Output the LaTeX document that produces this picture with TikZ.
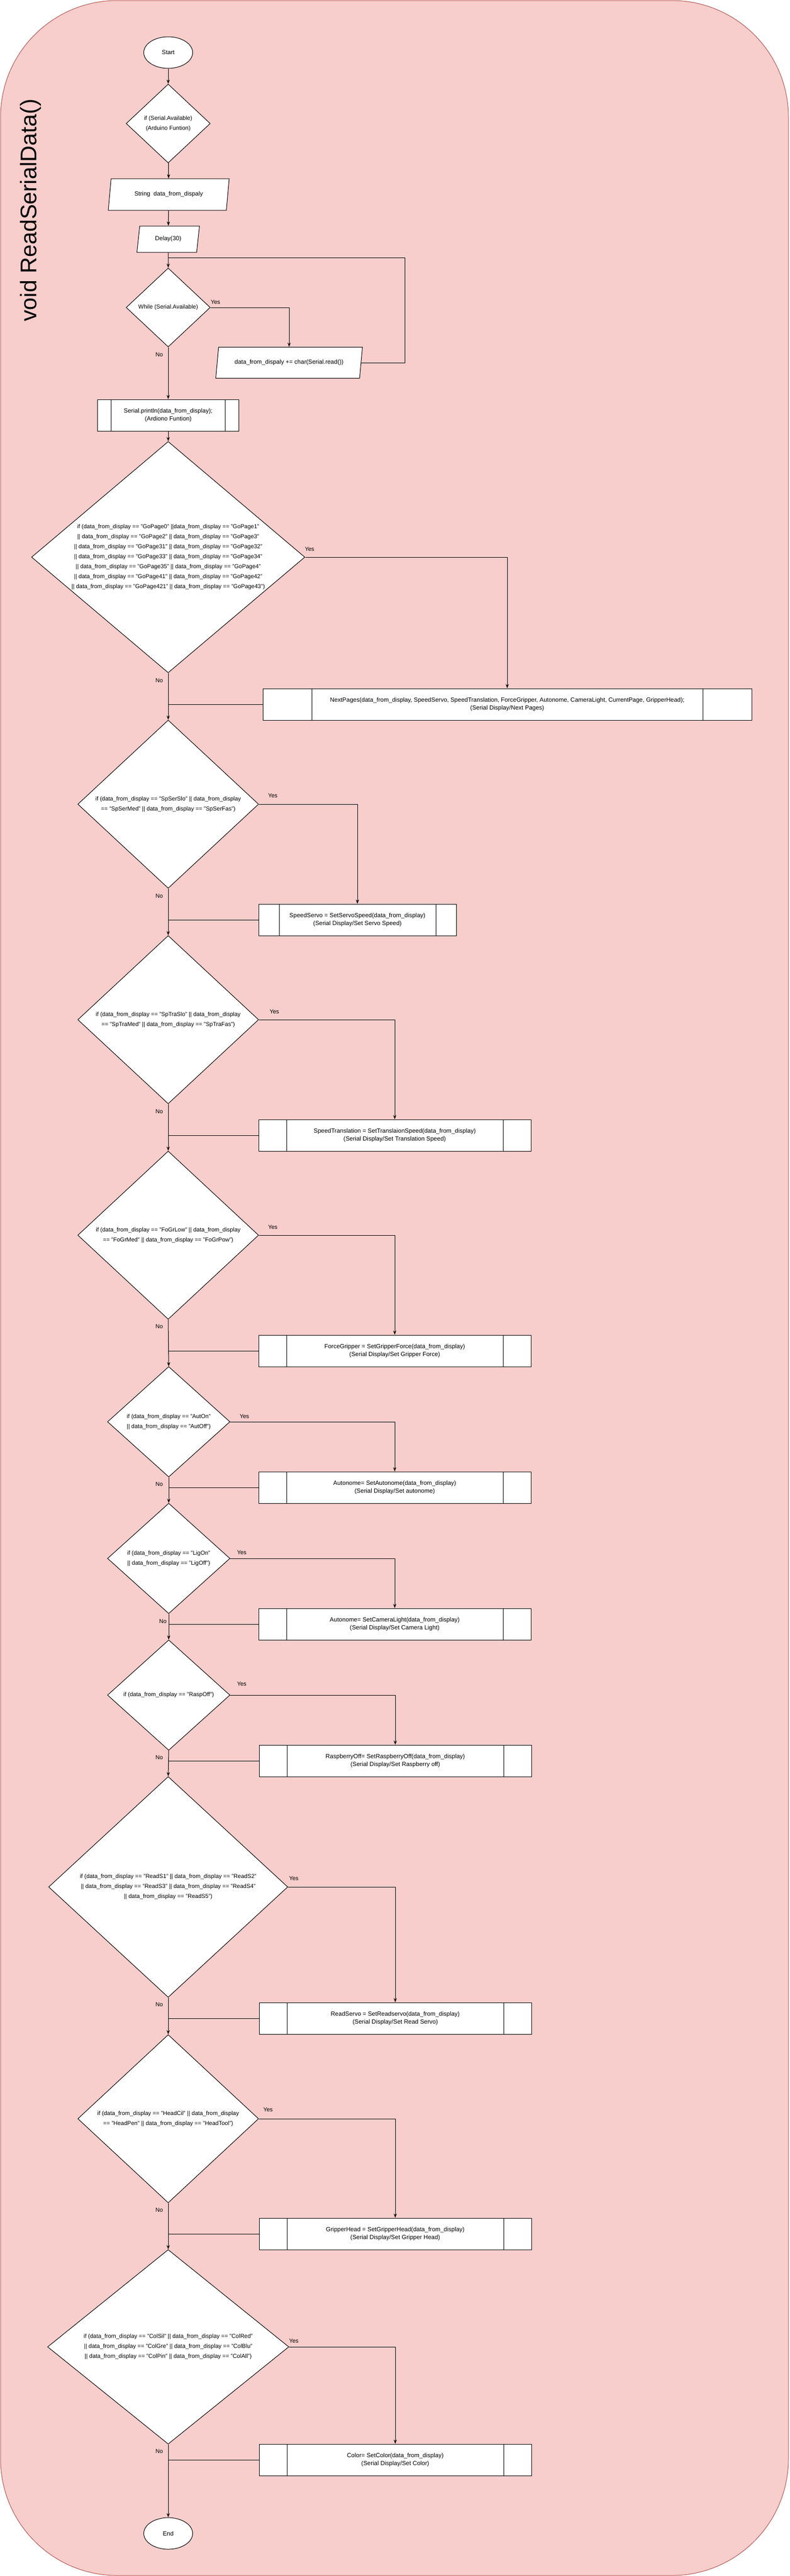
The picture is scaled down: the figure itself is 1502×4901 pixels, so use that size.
\documentclass[tikz,border=0pt]{standalone}
\usepackage{fontspec}
\setmainfont{Liberation Sans}
\usetikzlibrary{shapes.geometric,arrows.meta,positioning}

\definecolor{panelfill}{HTML}{F8CECC}
\definecolor{panelline}{HTML}{B85450}

\begin{document}
\begin{tikzpicture}[x=1pt,y=-1pt,line width=1pt,
    >={Stealth[length=8pt,width=6pt]},
    terminal/.style={ellipse,draw,fill=white,minimum width=93pt,minimum height=60pt,font=\fontsize{11.5}{14}\selectfont},
    decision/.style={diamond,draw,fill=white,inner sep=0pt},
    dtext/.style={align=center,font=\fontsize{11}{19}\selectfont},
    inout/.style={trapezium,trapezium left angle=70,trapezium right angle=110,trapezium stretches body,
        draw,fill=white,inner sep=2pt,font=\fontsize{11.5}{14}\selectfont},
    subproc/.style={draw,fill=white,minimum height=60pt,align=center,font=\fontsize{11.5}{14.5}\selectfont,
        path picture={
            \draw ([xshift=#1]path picture bounding box.north west) -- ([xshift=#1]path picture bounding box.south west);
            \draw ([xshift=-#1]path picture bounding box.north east) -- ([xshift=-#1]path picture bounding box.south east);}},
    edgelbl/.style={font=\fontsize{11}{13}\selectfont}
]

    % Fix the page size and draw the rounded panel behind everything
    \useasboundingbox (0,0) rectangle (1502,4901);
    \draw[panelline,fill=panelfill,rounded corners=222pt] (1,1) rectangle (1500,4900);

    % Title of the function, turned on its side
    \node[rotate=90,font=\fontsize{43}{50}\selectfont] (title) at (58,400) {void ReadSerialData()};

    % Start and the reading loop
    \node[terminal] (start) at (320,100) {Start};
    \node[decision,minimum width=160pt,minimum height=150pt,
        label={[dtext]center:{if (Serial.Available)\\(Arduino Funtion)}}] (ifavail) at (320,235) {};
    \node[inout,minimum width=230pt,minimum height=60pt] (strdecl) at (321,370) {String\ \ data\_from\_dispaly};
    \node[inout,minimum width=119pt,minimum height=50pt] (delay) at (320,455) {Delay(30)};
    \node[decision,minimum width=160pt,minimum height=150pt,
        label={[dtext]center:{While (Serial.Available)}}] (whileavail) at (320,585) {};
    \node[inout,minimum width=279pt,minimum height=59pt] (readchar) at (550,690) {data\_from\_dispaly += char(Serial.read())};
    \node[subproc=26pt,minimum width=269pt] (println) at (320,790) {Serial.println(data\_from\_display);\\(Ardiono Funtion)};

    % Page change
    \node[decision,minimum width=520pt,minimum height=440pt,
        label={[dtext]center:{if (data\_from\_display == "GoPage0" ||data\_from\_display == "GoPage1"\\
        || data\_from\_display == "GoPage2" || data\_from\_display == "GoPage3"\\
        || data\_from\_display == "GoPage31" || data\_from\_display == "GoPage32"\\
        || data\_from\_display == "GoPage33" || data\_from\_display == "GoPage34"\\
        || data\_from\_display == "GoPage35" || data\_from\_display == "GoPage4"\\
        || data\_from\_display == "GoPage41" || data\_from\_display == "GoPage42"\\
        || data\_from\_display == "GoPage421" || data\_from\_display == "GoPage43")}}] (gopage) at (320,1060) {};
    \node[subproc=93pt,minimum width=930pt] (nextpages) at (965,1340) {NextPages(data\_from\_display, SpeedServo, SpeedTranslation, ForceGripper, Autonome, CameraLight, CurrentPage, GripperHead);\\(Serial Display/Next Pages)};

    % Servo speed
    \node[decision,minimum width=344pt,minimum height=320pt,
        label={[dtext]center:{if (data\_from\_display == "SpSerSlo" || data\_from\_display\\== "SpSerMed" || data\_from\_display == "SpSerFas")}}] (spser) at (320,1530) {};
    \node[subproc=39pt,minimum width=376pt] (speedservo) at (680,1750) {SpeedServo = SetServoSpeed(data\_from\_display)\\(Serial Display/Set Servo Speed)};

    % Translation speed
    \node[decision,minimum width=344pt,minimum height=320pt,
        label={[dtext]center:{if (data\_from\_display == "SpTraSlo" || data\_from\_display\\== "SpTraMed" || data\_from\_display == "SpTraFas")}}] (sptra) at (320,1940) {};
    \node[subproc=53pt,minimum width=518pt] (speedtrans) at (751,2160) {SpeedTranslation = SetTranslaionSpeed(data\_from\_display)\\(Serial Display/Set Translation Speed)};

    % Gripper force
    \node[decision,minimum width=344pt,minimum height=320pt,
        label={[dtext]center:{if (data\_from\_display == "FoGrLow" || data\_from\_display\\== "FoGrMed" || data\_from\_display == "FoGrPow")}}] (fogr) at (320,2350) {};
    \node[subproc=53pt,minimum width=518pt] (forcegrip) at (751,2570) {ForceGripper = SetGripperForce(data\_from\_display)\\(Serial Display/Set Gripper Force)};

    % Autonome
    \node[decision,minimum width=233pt,minimum height=210pt,
        label={[dtext]center:{if (data\_from\_display == "AutOn"\\|| data\_from\_display == "AutOff")}}] (aut) at (321,2705) {};
    \node[subproc=53pt,minimum width=518pt] (autonome) at (751,2830) {Autonome= SetAutonome(data\_from\_display)\\(Serial Display/Set autonome)};

    % Camera light
    \node[decision,minimum width=233pt,minimum height=210pt,
        label={[dtext]center:{if (data\_from\_display == "LigOn"\\|| data\_from\_display == "LigOff")}}] (lig) at (321,2965) {};
    \node[subproc=53pt,minimum width=518pt] (camlight) at (751,3090) {Autonome= SetCameraLight(data\_from\_display)\\(Serial Display/Set Camera Light)};

    % Raspberry off
    \node[decision,minimum width=233pt,minimum height=210pt,
        label={[dtext]center:{if (data\_from\_display == "RaspOff")}}] (rasp) at (321,3225) {};
    \node[subproc=53pt,minimum width=518pt] (raspoff) at (752,3350) {RaspberryOff= SetRaspberryOff(data\_from\_display)\\(Serial Display/Set Raspberry off)};

    % Read servo
    \node[decision,minimum width=455pt,minimum height=420pt,
        label={[dtext]center:{if (data\_from\_display == "ReadS1" || data\_from\_display == "ReadS2"\\|| data\_from\_display == "ReadS3" || data\_from\_display == "ReadS4"\\|| data\_from\_display == "ReadS5")}}] (reads) at (320,3590) {};
    \node[subproc=53pt,minimum width=518pt] (readservo) at (752,3840) {ReadServo = SetReadservo(data\_from\_display)\\(Serial Display/Set Read Servo)};

    % Gripper head
    \node[decision,minimum width=344pt,minimum height=320pt,
        label={[dtext]center:{if (data\_from\_display == "HeadCil" || data\_from\_display\\== "HeadPen" || data\_from\_display == "HeadTool")}}] (head) at (320,4031) {};
    \node[subproc=53pt,minimum width=518pt] (griphead) at (752,4250) {GripperHead = SetGripperHead(data\_from\_display)\\(Serial Display/Set Gripper Head)};

    % Colour
    \node[decision,minimum width=459pt,minimum height=370pt,
        label={[dtext]center:{if (data\_from\_display == "ColSil" || data\_from\_display == "ColRed"\\|| data\_from\_display == "ColGre" || data\_from\_display == "ColBlu"\\|| data\_from\_display == "ColPin" || data\_from\_display == "ColAll")}}] (col) at (320,4465) {};
    \node[subproc=53pt,minimum width=518pt] (color) at (752,4680) {Color= SetColor(data\_from\_display)\\(Serial Display/Set Color)};

    \node[terminal] (stop) at (320,4820) {End};

    % Straight arrows down the main line
    \draw[->] (start) -- (ifavail);
    \draw[->] (ifavail) -- (strdecl);
    \draw[->] (strdecl) -- (delay);
    \draw[->] (delay) -- (whileavail);
    \draw[->] (whileavail) -- (println);
    \draw[->] (println) -- (gopage);

    % Loop back from the read to the while test
    \coordinate (loopin) at (320,490);
    \coordinate (loopcorner) at (770,490);
    \draw[->] (whileavail.east) -| (readchar.north);
    \draw (readchar.east) -| (loopcorner) -- (loopin);

    % Yes branches go right and down into their box
    \draw[->] (gopage.east) -| (nextpages.north);
    \draw[->] (spser.east) -| (speedservo.north);
    \draw[->] (sptra.east) -| (speedtrans.north);
    \draw[->] (fogr.east) -| (forcegrip.north);
    \draw[->] (aut.east) -| (autonome.north);
    \draw[->] (lig.east) -| (camlight.north);
    \draw[->] (rasp.east) -| (raspoff.north);
    \draw[->] (reads.east) -| (readservo.north);
    \draw[->] (head.east) -| (griphead.north);
    \draw[->] (col.east) -| (color.north);

    % No branches go straight down to the next test
    \draw[->] (gopage.south) -- (spser.north);
    \draw[->] (spser.south) -- (sptra.north);
    \draw[->] (sptra.south) -- (fogr.north);
    \draw[->] (fogr.south) -- (aut.north);
    \draw[->] (aut.south) -- (lig.north);
    \draw[->] (lig.south) -- (rasp.north);
    \draw[->] (rasp.south) -- (reads.north);
    \draw[->] (reads.south) -- (head.north);
    \draw[->] (head.south) -- (col.north);
    \draw[->] (col.south) -- (stop);

    % Boxes join back into the main line
    \draw (nextpages.west) -- (nextpages.west -| gopage.south);
    \draw (speedservo.west) -- (speedservo.west -| spser.south);
    \draw (speedtrans.west) -- (speedtrans.west -| sptra.south);
    \draw (forcegrip.west) -- (forcegrip.west -| fogr.south);
    \draw (autonome.west) -- (autonome.west -| aut.south);
    \draw (camlight.west) -- (camlight.west -| lig.south);
    \draw (raspoff.west) -- (raspoff.west -| rasp.south);
    \draw (readservo.west) -- (readservo.west -| reads.south);
    \draw (griphead.west) -- (griphead.west -| head.south);
    \draw (color.west) -- (color.west -| col.south);

    % Yes and No labels
    \node[edgelbl] (yes0) at (410,575) {Yes};
    \node[edgelbl] (no0) at (303,675) {No};
    \node[edgelbl] (yes1) at (589,1045) {Yes};
    \node[edgelbl] (no1) at (303,1295) {No};
    \node[edgelbl] (yes2) at (519,1514) {Yes};
    \node[edgelbl] (no2) at (303,1705) {No};
    \node[edgelbl] (yes3) at (522,1925) {Yes};
    \node[edgelbl] (no3) at (303,2115) {No};
    \node[edgelbl] (yes4) at (519,2335) {Yes};
    \node[edgelbl] (no4) at (303,2524) {No};
    \node[edgelbl] (yes5) at (465,2695) {Yes};
    \node[edgelbl] (no5) at (303,2824) {No};
    \node[edgelbl] (yes6) at (460,2954) {Yes};
    \node[edgelbl] (no6) at (310,3085) {No};
    \node[edgelbl] (yes7) at (460,3204) {Yes};
    \node[edgelbl] (no7) at (303,3344) {No};
    \node[edgelbl] (yes8) at (559,3574) {Yes};
    \node[edgelbl] (no8) at (303,3814) {No};
    \node[edgelbl] (yes9) at (510,4014) {Yes};
    \node[edgelbl] (no9) at (303,4205) {No};
    \node[edgelbl] (yes10) at (559,4454) {Yes};
    \node[edgelbl] (no10) at (303,4664) {No};

\end{tikzpicture}
\end{document}
